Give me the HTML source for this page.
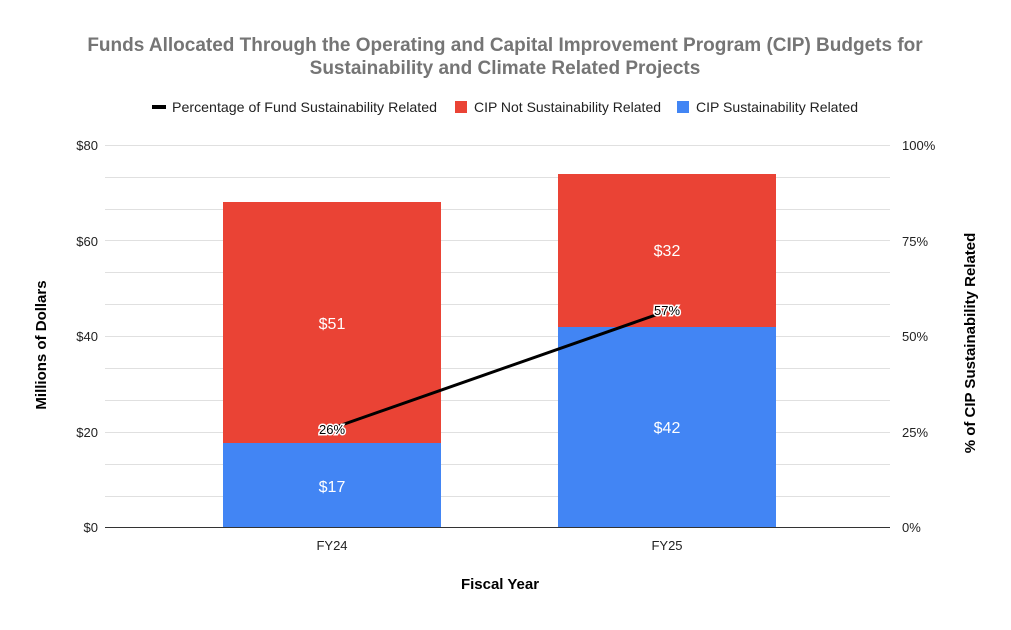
<!DOCTYPE html>
<html><head><style>body{margin:0;background:#fff}</style></head><body>
<svg width="1011" height="625" xmlns="http://www.w3.org/2000/svg" font-family="Liberation Sans, Arial, sans-serif">
<rect width="1011" height="625" fill="#fff"/>
<text x="505" y="51" text-anchor="middle" font-size="19" font-weight="bold" fill="#757575">Funds Allocated Through the Operating and Capital Improvement Program (CIP) Budgets for</text>
<text x="505" y="74" text-anchor="middle" font-size="19" font-weight="bold" fill="#757575">Sustainability and Climate Related Projects</text>
<rect x="152" y="105" width="14" height="4" fill="#000"/>
<text x="172" y="112" font-size="14" fill="#222" textLength="265" lengthAdjust="spacingAndGlyphs">Percentage of Fund Sustainability Related</text>
<rect x="455" y="101" width="12" height="12" fill="#ea4335"/>
<text x="474" y="112" font-size="14" fill="#222" textLength="187" lengthAdjust="spacingAndGlyphs">CIP Not Sustainability Related</text>
<rect x="677" y="101" width="12" height="12" fill="#4285f4"/>
<text x="696" y="112" font-size="14" fill="#222" textLength="162" lengthAdjust="spacingAndGlyphs">CIP Sustainability Related</text>
<g stroke="#e0e0e0" stroke-width="1">
<line x1="105" x2="890" y1="145.5" y2="145.5"/><line x1="105" x2="890" y1="177.5" y2="177.5"/>
<line x1="105" x2="890" y1="209.5" y2="209.5"/><line x1="105" x2="890" y1="240.5" y2="240.5"/>
<line x1="105" x2="890" y1="272.5" y2="272.5"/><line x1="105" x2="890" y1="304.5" y2="304.5"/>
<line x1="105" x2="890" y1="336.5" y2="336.5"/><line x1="105" x2="890" y1="368.5" y2="368.5"/>
<line x1="105" x2="890" y1="400.5" y2="400.5"/><line x1="105" x2="890" y1="432.5" y2="432.5"/>
<line x1="105" x2="890" y1="464.5" y2="464.5"/><line x1="105" x2="890" y1="496.5" y2="496.5"/>
</g>
<rect x="223" y="202" width="218" height="242" fill="#ea4335"/>
<rect x="223" y="443" width="218" height="84" fill="#4285f4"/>
<rect x="558" y="174" width="218" height="153" fill="#ea4335"/>
<rect x="558" y="327" width="218" height="200" fill="#4285f4"/>
<line x1="105" x2="890" y1="527.5" y2="527.5" stroke="#333"/>
<g font-size="16" fill="#fff" text-anchor="middle">
<text x="332" y="329">$51</text><text x="332" y="492">$17</text>
<text x="667" y="256">$32</text><text x="667" y="433">$42</text>
</g>
<line x1="333" y1="428" x2="667" y2="311" stroke="#000" stroke-width="3"/>
<g font-size="13" fill="#000" text-anchor="middle" stroke="#fff" stroke-width="3" paint-order="stroke">
<text x="332" y="434">26%</text><text x="667" y="315">57%</text>
</g>
<g font-size="13" fill="#222" text-anchor="end">
<text x="98" y="150">$80</text><text x="98" y="246">$60</text><text x="98" y="341">$40</text>
<text x="98" y="437">$20</text><text x="98" y="532">$0</text>
</g>
<g font-size="13" fill="#222">
<text x="902" y="150">100%</text><text x="902" y="246">75%</text><text x="902" y="341">50%</text>
<text x="902" y="437">25%</text><text x="902" y="532">0%</text>
</g>
<text x="332" y="550" font-size="13" fill="#222" text-anchor="middle">FY24</text>
<text x="667" y="550" font-size="13" fill="#222" text-anchor="middle">FY25</text>
<text x="500" y="589" font-size="15" font-weight="bold" fill="#000" text-anchor="middle">Fiscal Year</text>
<text transform="translate(46,345) rotate(-90)" font-size="15" font-weight="bold" fill="#000" text-anchor="middle">Millions of Dollars</text>
<text transform="translate(975,343) rotate(-90)" font-size="15" font-weight="bold" fill="#000" text-anchor="middle">% of CIP Sustainability Related</text>
</svg>
</body></html>
